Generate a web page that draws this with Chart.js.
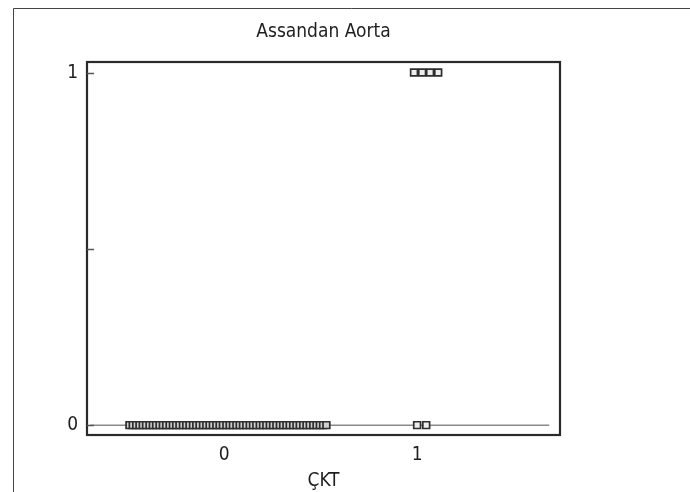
<!DOCTYPE html>
<html>
<head>
<meta charset="utf-8">
<script src="https://cdn.jsdelivr.net/npm/chart.js@4"></script>
<style>
  html, body { margin: 0; padding: 0; background: #fff; }
  #wrap { width: 690px; height: 492px; }
</style>
</head>
<body>
<div id="wrap"><canvas id="dotChart" width="690" height="492"></canvas></div>
<script>
// Data
const chartTitle = 'Assandan Aorta';
const xTitle = 'ÇKT';
const xTickLabels = [0, 1];
const yTickLabels = [0, 1];

// group CKT = 0, all at Assandan Aorta = 0 (horizontal jitter positions)
const group0X = [
  -0.490, -0.473, -0.455, -0.438, -0.421, -0.404, -0.386, -0.369, -0.352, -0.334,
  -0.317, -0.300, -0.282, -0.265, -0.248, -0.231, -0.213, -0.196, -0.179, -0.161,
  -0.144, -0.127, -0.109, -0.092, -0.075, -0.058, -0.040, -0.023, -0.006, 0.012,
  0.029, 0.046, 0.064, 0.081, 0.098, 0.115, 0.133, 0.150, 0.167, 0.185,
  0.202, 0.219, 0.237, 0.254, 0.271, 0.289, 0.306, 0.323, 0.340, 0.358,
  0.375, 0.392, 0.410, 0.427, 0.444, 0.462, 0.479, 0.496, 0.513, 0.530
];
const group0Y = group0X.map(() => 0);

// group CKT = 1
const group1ZeroX = [1.000, 1.047];
const group1ZeroY = [0, 0];
const group1OneX = [0.984, 1.026, 1.067, 1.109];
const group1OneY = [1, 1, 1, 1];

// reference line at 0
const refLineX = [-0.694, 1.684];
const refLineY = [0, 0];

function pts(xs, ys) {
  return xs.map((x, i) => ({ x: x, y: ys[i] }));
}

const fontFamily = '"Liberation Sans Narrow", "DejaVu Sans Condensed", "Roboto", sans-serif';
const fontSize = 19;

// title, plot box, inward ticks and outer frame
const framePlugin = {
  id: 'framePlugin',
  afterDraw(chart) {
    const ctx = chart.ctx;
    const a = chart.chartArea;
    const ys = chart.scales.y;
    ctx.save();
    // outer frame (top and left only)
    ctx.strokeStyle = '#444';
    ctx.lineWidth = 1;
    ctx.beginPath();
    ctx.moveTo(690, 8.5);
    ctx.lineTo(13.5, 8.5);
    ctx.lineTo(13.5, 492);
    ctx.stroke();
    // plot box
    ctx.strokeStyle = '#2a2a2a';
    ctx.lineWidth = 2.2;
    ctx.strokeRect(a.left, a.top, a.right - a.left, a.bottom - a.top);
    // inward y ticks
    ctx.lineWidth = 1.5;
    ctx.strokeStyle = '#555';
    [0, 0.5, 1].forEach(v => {
      const py = Math.round(ys.getPixelForValue(v)) + 0.5;
      ctx.beginPath();
      ctx.moveTo(a.left, py);
      ctx.lineTo(a.left + 7, py);
      ctx.stroke();
    });
    // title centred over the plot
    ctx.fillStyle = '#1e1e1e';
    ctx.font = fontSize + 'px ' + fontFamily;
    ctx.textAlign = 'center';
    ctx.textBaseline = 'middle';
    ctx.fillText(chartTitle, (a.left + a.right) / 2, 32);
    ctx.restore();
  }
};

const ctx = document.getElementById('dotChart').getContext('2d');
const markerStyle = {
  pointStyle: 'rect',
  pointRadius: 4.8,
  borderColor: '#2e2e2e',
  borderWidth: 1.7,
  order: 1
};
const dotChart = new Chart(ctx, {
  type: 'scatter',
  data: {
    datasets: [
      {
        label: 'ref',
        data: pts(refLineX, refLineY),
        showLine: true,
        borderColor: '#8a8a8a',
        borderWidth: 1.5,
        pointRadius: 0,
        order: 3
      },
      Object.assign({ label: 'CKT 0', data: pts(group0X, group0Y), backgroundColor: '#cfcfcf' }, markerStyle),
      Object.assign({ label: 'CKT 1 (0)', data: pts(group1ZeroX, group1ZeroY), backgroundColor: '#eeeeee' }, markerStyle),
      Object.assign({ label: 'CKT 1 (1)', data: pts(group1OneX, group1OneY), backgroundColor: '#eeeeee' }, markerStyle)
    ]
  },
  options: {
    responsive: false,
    animation: false,
    layout: { padding: { left: 0, right: 130, top: 62, bottom: 0 } },
    plugins: {
      legend: { display: false },
      tooltip: { enabled: false },
      title: { display: false }
    },
    scales: {
      x: {
        type: 'linear',
        min: -0.71,
        max: 1.74,
        grid: { display: false },
        border: { display: false },
        ticks: {
          stepSize: 1,
          includeBounds: false,
          color: '#1e1e1e',
          padding: 1,
          font: { family: fontFamily, size: fontSize },
          callback: v => xTickLabels.includes(v) ? String(v) : null
        },
        title: {
          display: true,
          text: xTitle,
          color: '#1e1e1e',
          font: { family: fontFamily, size: fontSize },
          padding: { top: 0, bottom: 0 }
        },
        afterFit(scale) { scale.height = 57; }
      },
      y: {
        type: 'linear',
        min: -0.028,
        max: 1.03,
        grid: { display: false },
        border: { display: false },
        ticks: {
          stepSize: 0.5,
          includeBounds: false,
          color: '#1e1e1e',
          padding: 1,
          font: { family: fontFamily, size: fontSize },
          callback: v => yTickLabels.includes(v) ? String(v) : ''
        },
        afterFit(scale) { scale.width = 87; }
      }
    }
  },
  plugins: [framePlugin]
});
</script>
</body>
</html>
